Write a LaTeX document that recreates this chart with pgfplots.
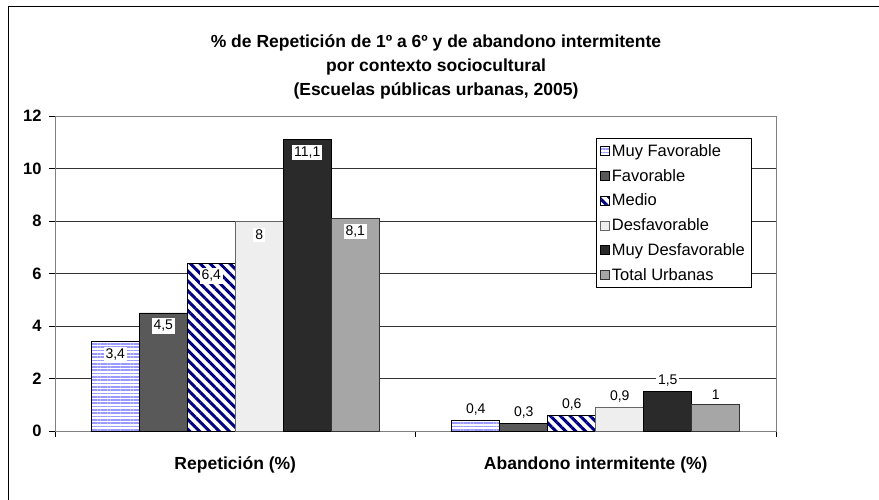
\documentclass[border=0pt]{standalone}
\usepackage{pgfplots}
\usepackage{pgfplotstable}
\pgfplotsset{compat=1.18}
\usepackage{fontspec}
\setmainfont{Liberation Sans}
\usetikzlibrary{patterns.meta}
\definecolor{mfblue}{HTML}{9999FF}
\definecolor{navyc}{HTML}{000080}
\definecolor{cfav}{HTML}{595959}
\definecolor{cdes}{HTML}{EEEEEE}
\definecolor{cmdes}{HTML}{2A2A2A}
\definecolor{ctot}{HTML}{A6A6A6}

\pgfplotstableread{
x y lab
0 3.4 3,4
1 0.4 0,4
}\tMF
\pgfplotstableread{
x y lab
0 4.5 4,5
1 0.3 0,3
}\tF
\pgfplotstableread{
x y lab
0 6.4 6,4
1 0.6 0,6
}\tM
\pgfplotstableread{
x y lab
0 8 8
1 0.9 0,9
}\tD
\pgfplotstableread{
x y lab
0 11.1 11,1
1 1.5 1,5
}\tMD
\pgfplotstableread{
x y lab
0 8.1 8,1
1 1 1
}\tT

\begin{document}
\begin{tikzpicture}
\useasboundingbox (-55pt,-68pt) rectangle (824pt,431pt);
\draw[black, line width=0.8pt] (-47pt,-70pt) -- (-47pt,425pt) -- (826pt,425pt);
\begin{axis}[
  scale only axis,
  width=721pt, height=315pt,
  xmin=-0.5, xmax=1.5, ymin=0, ymax=12,
  enlargelimits=false,
  ybar=0pt, bar width=48pt,
  ytick={0,2,...,12},
  xtick={-0.5,0.5,1.5},
  xticklabels={},
  extra x ticks={0,1},
  extra x tick labels={Repetición (\%),Abandono intermitente (\%)},
  extra x tick style={major tick length=0pt, grid=none,
     xticklabel style={yshift=-22pt}},
  tick align=outside, tick pos=left,
  major tick length=6pt,
  every tick/.style={black, line width=0.6pt},
  ymajorgrids,
  grid style={black!80, line width=0.6pt},
  axis line style={black!50, line width=0.8pt},
  /pgf/number format/assume math mode=true,
  yticklabel style={font=\bfseries\fontsize{16.5}{18}\selectfont, xshift=-4pt},
  xticklabel style={font=\bfseries\fontsize{17.5}{19}\selectfont},
  point meta=explicit symbolic,
  nodes near coords,
  visualization depends on={-21+24*\coordindex \as \mysh},
  every node near coord/.append style={anchor=south, yshift=\mysh pt,
     fill=white, inner sep=2pt, text=black, font=\fontsize{14}{16}\selectfont},
  legend style={at={(rel axis cs:0.7503,0.930)}, anchor=north west,
     draw=black, fill=white, line width=0.6pt,
     font=\fontsize{16.5}{18}\selectfont, row sep=7.3pt,
     inner xsep=4pt, inner ysep=4pt},
  legend cell align=left,
  legend image code/.code={\draw[#1, line width=0.6pt] (0pt,-4.5pt) rectangle (9pt,4.5pt);},
]
\addplot[draw=black, line width=0.6pt, fill=white, postaction={pattern={Lines[angle=0,distance=3.3pt,line width=1.7pt]}, pattern color=mfblue}]
  table[x=x,y=y,meta=lab]{\tMF};
\addplot[draw=black, line width=0.6pt, fill=cfav]
  table[x=x,y=y,meta=lab]{\tF};
\addplot[draw=black, line width=0.6pt, fill=white, postaction={pattern={Lines[angle=-45,distance=7pt,line width=3pt]}, pattern color=navyc}]
  table[x=x,y=y,meta=lab]{\tM};
\addplot[draw=black!60, line width=0.6pt, fill=cdes]
  table[x=x,y=y,meta=lab]{\tD};
\addplot[draw=black, line width=0.6pt, fill=cmdes]
  table[x=x,y=y,meta=lab]{\tMD};
\addplot[draw=black!80, line width=0.6pt, fill=ctot]
  table[x=x,y=y,meta=lab]{\tT};
\legend{Muy Favorable,Favorable,Medio,Desfavorable,Muy Desfavorable,Total Urbanas}
\end{axis}
\node[align=center, font=\bfseries\fontsize{17.5}{24}\selectfont] at (381pt,364pt)
 {\% de Repetición de 1º a 6º y de abandono intermitente\\por contexto sociocultural\\(Escuelas públicas urbanas, 2005)};
\end{tikzpicture}
\end{document}
